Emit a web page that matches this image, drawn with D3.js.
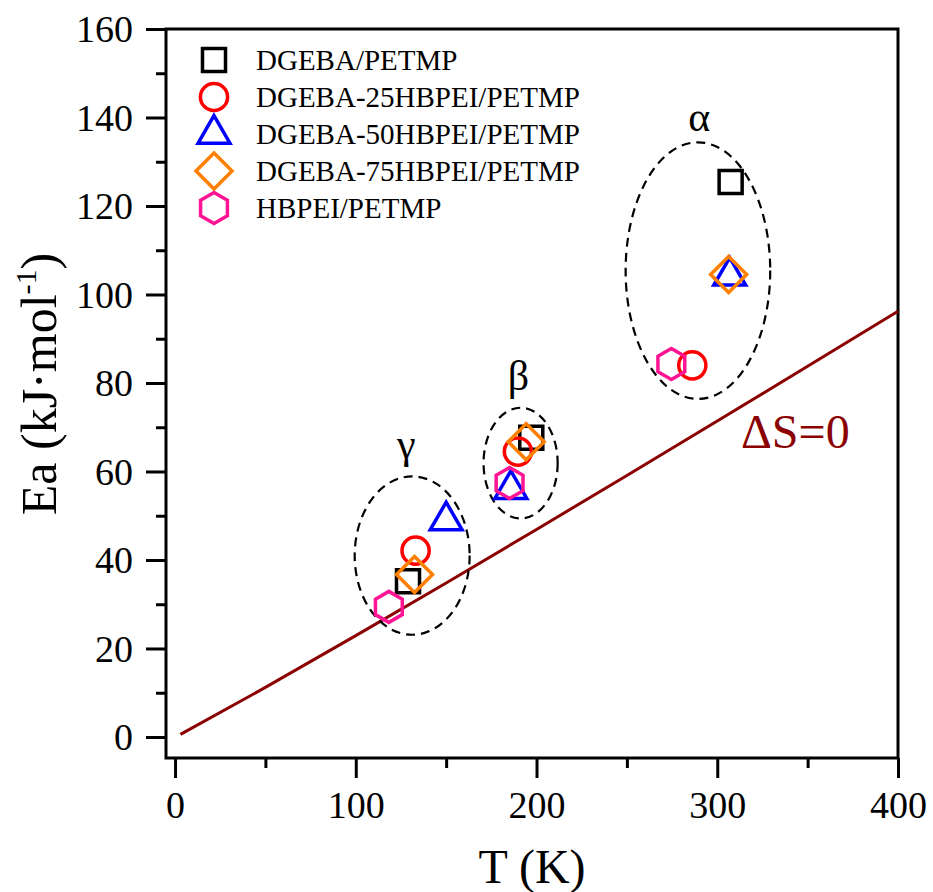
<!DOCTYPE html>
<html>
<head>
<meta charset="utf-8">
<script src="https://cdn.jsdelivr.net/npm/d3@7"></script>
<style>
  body { margin: 0; background: #fff; }
  text { font-family: "Liberation Serif", "Times New Roman", serif; }
</style>
</head>
<body>
<div id="container"></div>
<script>
/* DATA */
const seriesNames = ["DGEBA/PETMP", "DGEBA-25HBPEI/PETMP", "DGEBA-50HBPEI/PETMP", "DGEBA-75HBPEI/PETMP", "HBPEI/PETMP"];

// T (K) and Ea (kJ/mol) for the gamma, beta, alpha relaxations
const dgebaT = [128.9, 197.1, 307.4], dgebaEa = [35.2, 67.6, 125.4];
const hb25T  = [133.1, 189.7, 286.2], hb25Ea  = [42.1, 64.5, 84.0];
const hb50T  = [150.0, 185.8, 306.9], hb50Ea  = [48.9, 56.0, 104.2];
const hb75T  = [132.5, 194.3, 306.3], hb75Ea  = [36.7, 66.7, 104.5];
const hbpeiT = [118.3, 185.1, 274.6], hbpeiEa = [29.4, 57.4, 84.3];

// dS = 0 line
const lineT  = [3, 50, 100, 150, 200, 250, 300, 350, 400];
const lineEa = [0.6, 11.2, 22.9, 34.8, 46.9, 59.1, 71.4, 83.8, 96.2];

// relaxation regions (centre T, centre Ea, half-width T, half-height Ea)
const regionLabels = ["γ", "β", "α"];
const regionT  = [131.2, 191.2, 289.3];
const regionEa = [41.0, 61.9, 105.4];
const regionRT = [31.8, 20.5, 40.0];
const regionREa = [17.9, 12.5, 29.0];
const regionLabelT  = [128, 190, 290];
const regionLabelEa = [63, 78.5, 137];

const xTicks = [0, 100, 200, 300, 400];
const yTicks = [0, 20, 40, 60, 80, 100, 120, 140, 160];

/* CONSTANTS */
const width = 933, height = 892;
const margin = {top: 29, bottom: 134, left: 166, right: 35};

const colors = ["#000000", "#ff0000", "#0000ff", "#ff8000", "#ff1493"];
const shapes = ["square", "circle", "triangle", "diamond", "hexagon"];

const series = [
  {T: dgebaT, Ea: dgebaEa},
  {T: hb25T, Ea: hb25Ea},
  {T: hb50T, Ea: hb50Ea},
  {T: hb75T, Ea: hb75Ea},
  {T: hbpeiT, Ea: hbpeiEa}
].map((s, i) => ({name: seriesNames[i], color: colors[i], shape: shapes[i],
  points: s.T.map((t, j) => ({T: t, Ea: s.Ea[j]}))}));

function markerPath(shape) {
  if (shape === "square") return d3.symbol(d3.symbolSquare, 530)();
  if (shape === "circle") return d3.symbol(d3.symbolCircle, 580)();
  if (shape === "triangle") return d3.symbol(d3.symbolTriangle, 440)();
  if (shape === "diamond") {
    const r = 18;
    return `M0,${-r}L${r},0L0,${r}L${-r},0Z`;
  }
  const r = 15.5;
  const pts = d3.range(6).map(k => {
    const a = Math.PI / 3 * k;
    return [r * Math.sin(a), -r * Math.cos(a)];
  });
  return "M" + pts.map(p => p.join(",")).join("L") + "Z";
}

/* SCALES */
const xScale = d3.scaleLinear()
                 .domain([-5, 400])
                 .range([margin.left, width - margin.right]);

const yScale = d3.scaleLinear()
                 .domain([-4.75, 160])
                 .range([height - margin.bottom, margin.top]);

/* SVG */
const svg = d3.select("#container")
              .append("svg")
              .attr("width", width)
              .attr("height", height);

const x0 = margin.left, x1 = width - margin.right;
const y0 = height - margin.bottom, y1 = margin.top;

// axes
const xAxis = d3.axisBottom(xScale)
                .tickValues(d3.range(0, 401, 50))
                .tickSize(20)
                .tickPadding(12)
                .tickFormat(d => xTicks.includes(d) ? d : "");

const yAxis = d3.axisLeft(yScale)
                .tickValues(d3.range(0, 161, 10))
                .tickSize(20)
                .tickPadding(12)
                .tickFormat(d => yTicks.includes(d) ? d : "");

const gx = svg.append("g")
   .attr("transform", `translate(0, ${y0})`)
   .call(xAxis);

const gy = svg.append("g")
   .attr("transform", `translate(${x0}, 0)`)
   .call(yAxis);

[gx, gy].forEach(g => {
  g.select(".domain").remove();
  g.selectAll(".tick line").attr("stroke", "#000").attr("stroke-width", 3);
  g.selectAll(".tick text").attr("font-size", 38).attr("fill", "#000")
   .attr("font-family", "Liberation Serif, serif");
});
gx.selectAll(".tick").filter(d => d % 100 !== 0).select("line").attr("y2", 10);
gy.selectAll(".tick").filter(d => d % 20 !== 0).select("line").attr("x2", -10);
gx.selectAll(".tick text").attr("dy", "0.71em").attr("y", 33);
gy.selectAll(".tick text").attr("x", -33).attr("dy", "0.33em");

// frame
svg.append("rect")
   .attr("x", x0).attr("y", y1)
   .attr("width", x1 - x0).attr("height", y0 - y1)
   .attr("fill", "none")
   .attr("stroke", "#000")
   .attr("stroke-width", 3);

// axis titles
svg.append("text")
   .attr("x", (x0 + x1) / 2)
   .attr("y", 883)
   .attr("text-anchor", "middle")
   .attr("font-size", 48)
   .text("T (K)");

const yTitle = svg.append("text")
   .attr("transform", `translate(56, 384) rotate(-90)`)
   .attr("text-anchor", "middle")
   .attr("font-size", 50);
yTitle.append("tspan").text("Ea (kJ·mol");
yTitle.append("tspan").attr("font-size", 30).attr("dy", -20).text("-1");
yTitle.append("tspan").attr("dy", 20).text(")");

// dS = 0 line
const line = d3.line().x(d => xScale(d[0])).y(d => yScale(d[1]));
svg.append("path")
   .datum(lineT.map((t, i) => [t, lineEa[i]]))
   .attr("d", line)
   .attr("fill", "none")
   .attr("stroke", "#8b0000")
   .attr("stroke-width", 3);

svg.append("text")
   .attr("x", 741)
   .attr("y", 448)
   .attr("font-size", 48)
   .attr("fill", "#8b0000")
   .text("ΔS=0");

// dashed ellipses around relaxations
svg.selectAll("ellipse.region")
   .data(regionT.map((t, i) => ({T: t, Ea: regionEa[i], rT: regionRT[i], rEa: regionREa[i]})))
   .join("ellipse")
   .attr("class", "region")
   .attr("cx", d => xScale(d.T))
   .attr("cy", d => yScale(d.Ea))
   .attr("rx", d => xScale(d.T + d.rT) - xScale(d.T))
   .attr("ry", d => yScale(d.Ea - d.rEa) - yScale(d.Ea))
   .attr("fill", "none")
   .attr("stroke", "#000")
   .attr("stroke-width", 2.2)
   .attr("stroke-dasharray", "9,6");

svg.selectAll("text.region")
   .data(regionLabels)
   .join("text")
   .attr("class", "region")
   .attr("x", (d, i) => xScale(regionLabelT[i]))
   .attr("y", (d, i) => yScale(regionLabelEa[i]))
   .attr("text-anchor", "middle")
   .attr("font-size", 42)
   .text(d => d);

// markers
series.forEach(s => {
  svg.append("g")
     .selectAll("path")
     .data(s.points)
     .join("path")
     .attr("transform", d => `translate(${xScale(d.T)}, ${yScale(d.Ea)})`)
     .attr("d", markerPath(s.shape))
     .attr("fill", "none")
     .attr("stroke", s.color)
     .attr("stroke-width", 3.5);
});

// legend
const legend = svg.append("g").attr("transform", "translate(214, 60)");
const row = legend.selectAll("g")
   .data(series)
   .join("g")
   .attr("transform", (d, i) => `translate(0, ${i * 37})`);

row.append("path")
   .attr("d", d => markerPath(d.shape))
   .attr("fill", "none")
   .attr("stroke", d => d.color)
   .attr("stroke-width", 3.5);

row.append("text")
   .attr("x", 42)
   .attr("y", 10)
   .attr("font-size", 29)
   .text(d => d.name);
</script>
</body>
</html>
